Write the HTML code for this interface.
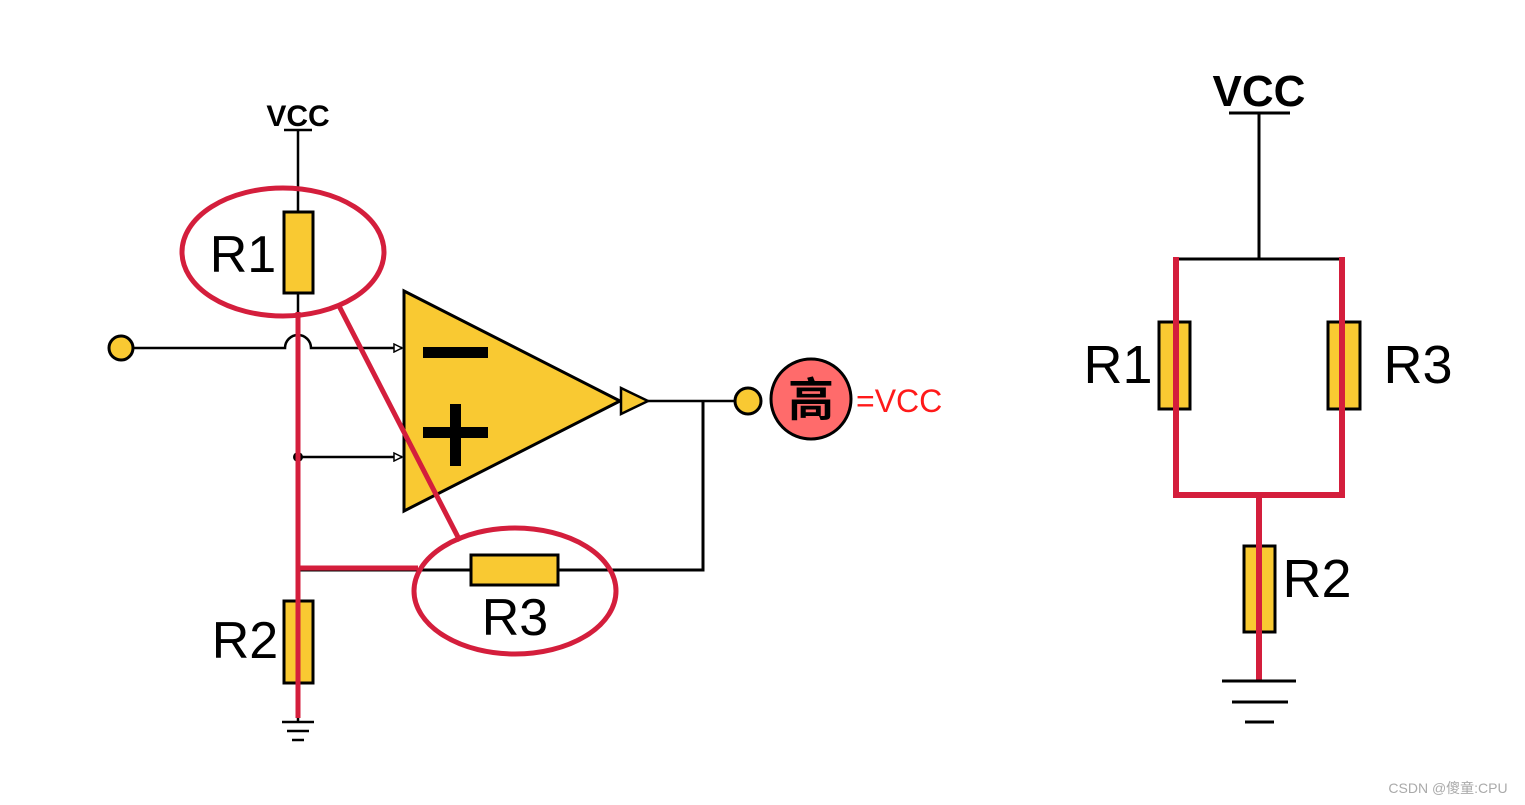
<!DOCTYPE html>
<html><head><meta charset="utf-8"><style>
html,body{margin:0;padding:0;background:#fff;}
svg{display:block;}
text{font-family:"Liberation Sans","Noto Sans CJK SC",sans-serif;}
</style></head><body>
<svg width="1525" height="805" viewBox="0 0 1525 805" xmlns="http://www.w3.org/2000/svg">
<defs>
<marker id="ar" markerWidth="10" markerHeight="10" refX="9" refY="5" orient="auto" markerUnits="userSpaceOnUse">
<path d="M1,1 L9,5 L1,9 Z" fill="#fff" stroke="#000" stroke-width="1.5"/>
</marker>
</defs>
<!-- LEFT CIRCUIT -->
<text x="298" y="126" text-anchor="middle" font-size="30" font-weight="bold">VCC</text>
<line x1="284" y1="130" x2="312" y2="130" stroke="#000" stroke-width="2.5"/>
<line x1="298" y1="130" x2="298" y2="722" stroke="#000" stroke-width="2.5"/>
<!-- input line with jump -->
<circle cx="121" cy="348" r="12" fill="#F9C932" stroke="#000" stroke-width="3"/>
<path d="M133,348 L285,348 A13,13 0 0 1 311,348 L402,348" fill="none" stroke="#000" stroke-width="2.5" marker-end="url(#ar)"/>
<circle cx="298" cy="457" r="5" fill="#000"/>
<line x1="298" y1="457" x2="402" y2="457" stroke="#000" stroke-width="2.5" marker-end="url(#ar)"/>
<!-- op amp -->
<polygon points="404,291 404,511 620,401" fill="#F9C932" stroke="#000" stroke-width="3"/>
<rect x="423" y="347" width="65" height="11" fill="#000"/>
<rect x="423" y="427" width="65" height="11" fill="#000"/>
<rect x="450" y="404" width="11" height="62" fill="#000"/>
<polygon points="621,388 621,414 648,401" fill="#F9C932" stroke="#000" stroke-width="2.5"/>
<line x1="648" y1="401" x2="735" y2="401" stroke="#000" stroke-width="2.5"/>
<circle cx="748" cy="401" r="13" fill="#F9C932" stroke="#000" stroke-width="3"/>
<polyline points="703,401 703,570 298,570" fill="none" stroke="#000" stroke-width="3"/>
<!-- resistors -->
<rect x="284" y="212" width="29" height="81" fill="#F9C932" stroke="#000" stroke-width="3"/>
<rect x="471" y="555" width="87" height="30" fill="#F9C932" stroke="#000" stroke-width="3"/>
<rect x="284" y="601" width="29" height="82" fill="#F9C932" stroke="#000" stroke-width="3"/>
<!-- ground -->
<line x1="282" y1="722" x2="314" y2="722" stroke="#000" stroke-width="2.5"/>
<line x1="287" y1="731" x2="309" y2="731" stroke="#000" stroke-width="2.5"/>
<line x1="292" y1="740" x2="304" y2="740" stroke="#000" stroke-width="2.5"/>
<!-- red highlights -->
<line x1="298" y1="312" x2="298" y2="718" stroke="#D41E3C" stroke-width="5"/>
<line x1="298" y1="568" x2="418" y2="568" stroke="#D41E3C" stroke-width="5"/>
<line x1="338" y1="304" x2="460" y2="541" stroke="#D41E3C" stroke-width="5"/>
<ellipse cx="283" cy="252" rx="101" ry="64" fill="none" stroke="#D41E3C" stroke-width="5"/>
<ellipse cx="515" cy="591" rx="101" ry="63" fill="none" stroke="#D41E3C" stroke-width="5"/>
<text x="243" y="272" text-anchor="middle" font-size="52">R1</text>
<text x="515" y="635" text-anchor="middle" font-size="52">R3</text>
<text x="245" y="658" text-anchor="middle" font-size="52">R2</text>
<!-- high indicator -->
<circle cx="811" cy="399" r="40" fill="#FF6B6B" stroke="#000" stroke-width="3"/>
<text x="811" y="416" text-anchor="middle" font-size="46" font-weight="bold" font-family="'Noto Sans CJK SC',sans-serif">高</text>
<text x="856" y="412" font-size="32" fill="#FF1A1A">=VCC</text>
<!-- RIGHT CIRCUIT -->
<text x="1259" y="106" text-anchor="middle" font-size="44" font-weight="bold">VCC</text>
<line x1="1229" y1="113" x2="1290" y2="113" stroke="#000" stroke-width="3"/>
<line x1="1259" y1="113" x2="1259" y2="259" stroke="#000" stroke-width="3"/>
<line x1="1176" y1="259" x2="1342" y2="259" stroke="#000" stroke-width="3"/>
<rect x="1159" y="322" width="31" height="87" fill="#F9C932" stroke="#000" stroke-width="3"/>
<rect x="1328" y="322" width="32" height="87" fill="#F9C932" stroke="#000" stroke-width="3"/>
<rect x="1244" y="546" width="31" height="86" fill="#F9C932" stroke="#000" stroke-width="3"/>
<polyline points="1176,257 1176,495 1342,495 1342,257" fill="none" stroke="#D41E3C" stroke-width="6"/>
<line x1="1259" y1="495" x2="1259" y2="680" stroke="#D41E3C" stroke-width="6"/>
<line x1="1222" y1="681" x2="1296" y2="681" stroke="#000" stroke-width="3"/>
<line x1="1232" y1="702" x2="1288" y2="702" stroke="#000" stroke-width="3"/>
<line x1="1245" y1="722" x2="1274" y2="722" stroke="#000" stroke-width="3"/>
<text x="1118" y="383" text-anchor="middle" font-size="54">R1</text>
<text x="1418" y="383" text-anchor="middle" font-size="54">R3</text>
<text x="1317" y="597" text-anchor="middle" font-size="54">R2</text>
<text x="1448" y="793" text-anchor="middle" font-size="14" fill="#aaa">CSDN @傻童:CPU</text>
</svg>
</body></html>
